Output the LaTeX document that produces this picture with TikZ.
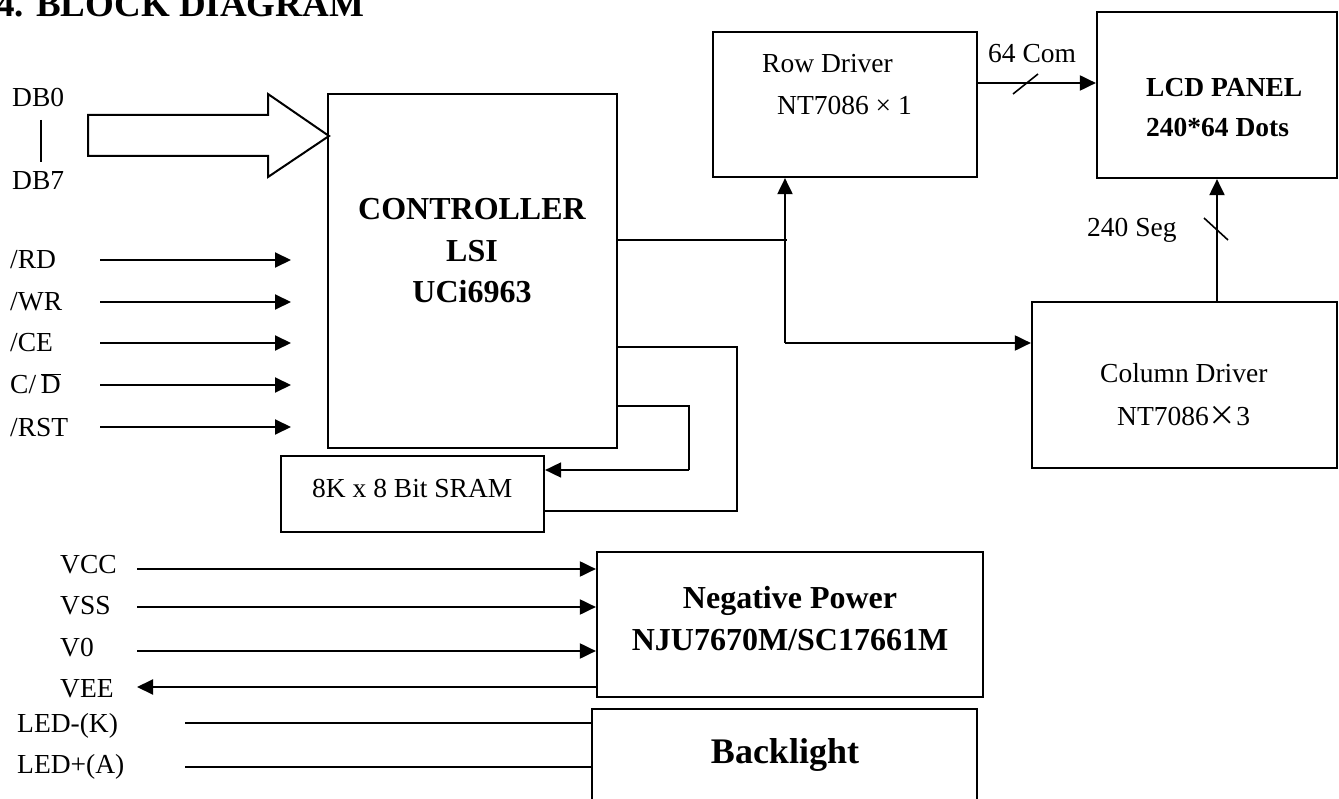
\documentclass[tikz,border=0pt]{standalone}
\usepackage{fontspec}
\setmainfont{Liberation Serif}
\newfontfamily\cjk{Noto Sans CJK SC}
\usetikzlibrary{arrows.meta}
\tikzset{
  box/.style={draw,line width=2.2pt,inner sep=0pt,rectangle},
  txt/.style={inner sep=0pt,font=\fontsize{27.5}{33}\selectfont},
  btxt/.style={inner sep=0pt,font=\fontsize{32}{38}\selectfont\bfseries},
  wire/.style={line width=2pt},
  thin wire/.style={line width=1.6pt},
  arr/.style={line width=2pt,-{Triangle[length=16pt,width=15pt]}},
}
\begin{document}
\begin{tikzpicture}[x=1pt,y=-1pt]
\useasboundingbox (0,0) rectangle (1339,799);
% title
\node[inner sep=0pt,anchor=base west,font=\fontsize{37}{40}\selectfont\bfseries] (title) at (-4,17) {4. BLOCK DIAGRAM};
% boxes
\node[box,minimum width=289pt,minimum height=354pt] (ctrl) at (472.5,271) {};
\node[box,minimum width=263pt,minimum height=76pt] (sram) at (412.5,494) {};
\node[box,minimum width=264pt,minimum height=145pt] (row) at (845,104.5) {};
\node[box,minimum width=240pt,minimum height=166pt] (lcd) at (1217,95) {};
\node[box,minimum width=305pt,minimum height=166pt] (col) at (1184.5,385) {};
\node[box,minimum width=386pt,minimum height=145pt] (np) at (790,624.5) {};
\coordinate (blnw) at (592,709);
\coordinate (blne) at (977,709);
\draw[line width=2.2pt] (592,820) -- (blnw) -- (blne) -- (977,820);
% box texts
\node[btxt,anchor=base] (c1) at (472,220) {CONTROLLER};
\node[btxt,anchor=base] (c2) at (472,262) {LSI};
\node[btxt,anchor=base] (c3) at (472,303) {UCi6963};
\node[txt,anchor=base west] (sramt) at (312,497) {8K x 8 Bit SRAM};
\node[txt,anchor=base west] (r1) at (762,73) {Row Driver};
\node[txt,anchor=base west] (r2) at (777,115) {NT7086 × 1};
\node[txt,anchor=base west,font=\fontsize{27.5}{33}\selectfont\bfseries] (l1) at (1146,97) {LCD PANEL};
\node[txt,anchor=base west,font=\fontsize{27.5}{33}\selectfont\bfseries] (l2) at (1146,137) {240*64 Dots};
\node[txt,anchor=base west] (k1) at (1100,383) {Column Driver};
\node[txt,anchor=base west] (k2) at (1117,425) {NT7086{\cjk ×}3};
\node[btxt,anchor=base] (n1) at (790,608) {Negative Power};
\node[btxt,anchor=base] (n2) at (790,650) {NJU7670M/SC17661M};
\node[inner sep=0pt,anchor=base,font=\fontsize{36}{40}\selectfont\bfseries] (blt) at (785,763) {Backlight};
% data bus
\node[txt,anchor=base west] (db0) at (12,107) {DB0};
\node[txt,anchor=base west] (db7) at (12,190) {DB7};
\draw[line width=1.6pt] (41,120) -- (41,162);
\coordinate (bustip) at (329,136);
\draw[line width=2pt,line join=miter] (88,115) -- (268,115) -- (268,94) -- (bustip) -- (268,177) -- (268,156) -- (88,156) -- cycle;
% control signals
\node[txt,anchor=base west] (rd) at (10,269) {/RD};
\node[txt,anchor=base west] (wr) at (10,311) {/WR};
\node[txt,anchor=base west] (ce) at (10,352) {/CE};
\node[txt,anchor=base west] (cd) at (10,394) {C/\,$\overline{\hbox{D}}$};
\node[txt,anchor=base west] (rst) at (10,436) {/RST};
\foreach \n/\y in {rd/260, wr/302, ce/343, cd/385, rst/427}{
  \coordinate (\n e) at (291,\y);
  \draw[arr] (100,\y) -- (\n e);
}
% controller to drivers
\coordinate (jn) at (785,343);
\draw[wire] (ctrl.east |- 0,240) -- (787,240);
\draw[arr] (jn) -- (row.south -| jn);
\draw[arr] (jn) -- (col.west |- jn);
% row driver to lcd
\draw[arr] (row.east |- 0,83) -- (lcd.west |- 0,83);
\draw[line width=1.6pt] (1013,94) -- (1038,74);
\node[txt,anchor=base west] (com) at (988,63) {64 Com};
% column driver to lcd
\draw[arr] (col.north -| 1217,0) -- (lcd.south -| 1217,0);
\draw[line width=1.6pt] (1204,218) -- (1228,240);
\node[txt,anchor=base west] (seg) at (1087,237) {240 Seg};
% controller to sram
\draw[thin wire] (ctrl.east |- 0,347) -- (737,347) -- (737,511) -- (sram.east |- 0,511);
\draw[thin wire] (ctrl.east |- 0,406) -- (689,406) -- (689,470);
\draw[arr,line width=1.8pt] (689,470) -- (sram.east |- 0,470);
% power
\node[txt,anchor=base west] (vcc) at (60,573) {VCC};
\node[txt,anchor=base west] (vss) at (60,614) {VSS};
\node[txt,anchor=base west] (vo) at (60,656) {V0};
\foreach \y in {569, 607, 651}{
  \draw[arr] (137,\y) -- (np.west |- 0,\y);
}
\node[txt,anchor=base west] (vee) at (60,697) {VEE};
\coordinate (veee) at (137,687);
\draw[arr] (np.west |- 0,687) -- (veee);
\node[txt,anchor=base west] (ledk) at (17,732) {LED-(K)};
\node[txt,anchor=base west] (leda) at (17,773) {LED+(A)};
\draw[wire] (185,723) -- (blnw |- 0,723);
\draw[wire] (185,767) -- (blnw |- 0,767);
\end{tikzpicture}
\end{document}
